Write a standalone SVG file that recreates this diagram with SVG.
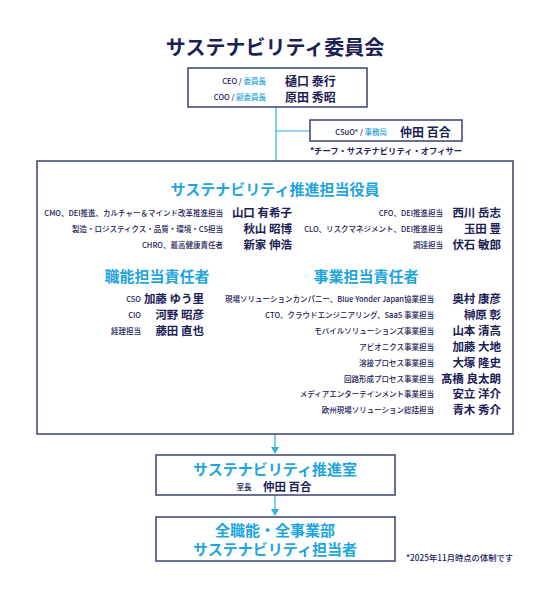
<svg xmlns="http://www.w3.org/2000/svg" width="549" height="600" viewBox="0 0 549 600">
<style>
text{font-family:"Noto Sans CJK JP","Noto Sans",sans-serif;dominant-baseline:central;}
.box{fill:#fff;stroke:#3a4170;stroke-width:1.5;}
.title{font-size:20px;font-weight:700;fill:#1b2157;}
.h{font-size:15px;font-weight:700;fill:#1ea5e0;}
.lb{font-size:7.5px;font-weight:500;fill:#1b2157;}
.lbc{font-size:7.5px;font-weight:500;fill:#1ea5e0;}
.nm{font-size:11.5px;font-weight:700;fill:#1b2157;}
.nmb{font-size:12px;font-weight:700;fill:#1b2157;}
.note{font-size:8.3px;font-weight:700;fill:#1b2157;}
.con{stroke:#2cb0e6;stroke-width:1.2;fill:none;}
</style>
<text class="title" x="275" y="46" text-anchor="middle">サステナビリティ委員会</text>

<g id="connectors">
<line class="con" x1="276" y1="107" x2="276" y2="161"/>
<line class="con" x1="276" y1="131" x2="310" y2="131"/>
<line class="con" x1="275" y1="434" x2="275" y2="449"/>
<path d="M271,447 L279,447 L275,454 Z" fill="#2cb0e6"/>
<line class="con" x1="275" y1="495" x2="275" y2="511"/>
<path d="M271,509 L279,509 L275,516 Z" fill="#2cb0e6"/>
</g>

<g id="committee-top">
<rect class="box" x="188" y="68" width="179" height="39"/>
<text x="266" y="80" text-anchor="end"><tspan class="lb">CEO / </tspan><tspan class="lbc">委員長</tspan></text>
<text x="266" y="96" text-anchor="end"><tspan class="lb">COO / </tspan><tspan class="lbc">副委員長</tspan></text>
<text class="nmb" x="285" y="80">樋口 泰行</text>
<text class="nmb" x="285" y="96">原田 秀昭</text>
</g>

<g id="csuo">
<rect class="box" x="310" y="120" width="152" height="21"/>
<text x="387" y="131" text-anchor="end"><tspan class="lb">CSuO* / </tspan><tspan class="lbc">事務局</tspan></text>
<text class="nmb" x="400" y="131">仲田 百合</text>
<text class="note" x="386" y="150" text-anchor="middle">*チーフ・サステナビリティ・オフィサー</text>
</g>

<g id="officers">
<rect class="box" x="37" y="161" width="476" height="273"/>
<text class="h" x="275" y="188" text-anchor="middle">サステナビリティ推進担当役員</text>
<text class="lb" x="223" y="212" text-anchor="end">CMO、DEI推進、カルチャー＆マインド改革推進担当</text>
<text class="lb" x="223" y="228" text-anchor="end">製造・ロジスティクス・品質・環境・CS担当</text>
<text class="lb" x="223" y="244" text-anchor="end">CHRO、最高健康責任者</text>
<text class="nm" x="292" y="212" text-anchor="end">山口 有希子</text>
<text class="nm" x="292" y="228" text-anchor="end">秋山 昭博</text>
<text class="nm" x="292" y="244" text-anchor="end">新家 伸浩</text>
<text class="lb" x="443" y="212" text-anchor="end">CFO、DEI推進担当</text>
<text class="lb" x="443" y="228" text-anchor="end">CLO、リスクマネジメント、DEI推進担当</text>
<text class="lb" x="443" y="244" text-anchor="end">調達担当</text>
<text class="nm" x="501" y="212" text-anchor="end">西川 岳志</text>
<text class="nm" x="501" y="228" text-anchor="end">玉田 豊</text>
<text class="nm" x="501" y="244" text-anchor="end">伏石 敏郎</text>

<text class="h" x="157" y="275" text-anchor="middle">職能担当責任者</text>
<text class="lb" x="141" y="298" text-anchor="end">CSO</text>
<text class="lb" x="141" y="314" text-anchor="end">CIO</text>
<text class="lb" x="141" y="330" text-anchor="end">経理担当</text>
<text class="nm" x="204" y="298" text-anchor="end">加藤 ゆう里</text>
<text class="nm" x="204" y="314" text-anchor="end">河野 昭彦</text>
<text class="nm" x="204" y="330" text-anchor="end">藤田 直也</text>

<text class="h" x="366" y="275" text-anchor="middle">事業担当責任者</text>
<text class="lb" x="434" y="298" text-anchor="end">現場ソリューションカンパニー、Blue Yonder Japan協業担当</text>
<text class="lb" x="434" y="314" text-anchor="end">CTO、クラウドエンジニアリング、SaaS 事業担当</text>
<text class="lb" x="434" y="330" text-anchor="end">モバイルソリューションズ事業担当</text>
<text class="lb" x="434" y="346" text-anchor="end">アビオニクス事業担当</text>
<text class="lb" x="434" y="362" text-anchor="end">溶接プロセス事業担当</text>
<text class="lb" x="434" y="378" text-anchor="end">回路形成プロセス事業担当</text>
<text class="lb" x="434" y="393" text-anchor="end">メディアエンターテインメント事業担当</text>
<text class="lb" x="434" y="409" text-anchor="end">欧州現場ソリューション総括担当</text>
<text class="nm" x="501" y="298" text-anchor="end">奥村 康彦</text>
<text class="nm" x="501" y="314" text-anchor="end">榊原 彰</text>
<text class="nm" x="501" y="330" text-anchor="end">山本 清高</text>
<text class="nm" x="501" y="346" text-anchor="end">加藤 大地</text>
<text class="nm" x="501" y="362" text-anchor="end">大塚 隆史</text>
<text class="nm" x="501" y="378" text-anchor="end">髙橋 良太朗</text>
<text class="nm" x="501" y="393" text-anchor="end">安立 洋介</text>
<text class="nm" x="501" y="409" text-anchor="end">青木 秀介</text>
</g>

<g id="promotion-office">
<rect class="box" x="156" y="455" width="239" height="40"/>
<text class="h" x="275" y="468" text-anchor="middle">サステナビリティ推進室</text>
<text class="lb" x="244" y="486" text-anchor="middle">室長</text>
<text class="nm" x="263" y="486">仲田 百合</text>
</g>

<g id="staff">
<rect class="box" x="156" y="517" width="239" height="44"/>
<text class="h" x="275" y="529" text-anchor="middle">全職能・全事業部</text>
<text class="h" x="275" y="548" text-anchor="middle">サステナビリティ担当者</text>
</g>

<text class="note" x="406" y="557" style="font-weight:500">*2025年11月時点の体制です</text>
</svg>
